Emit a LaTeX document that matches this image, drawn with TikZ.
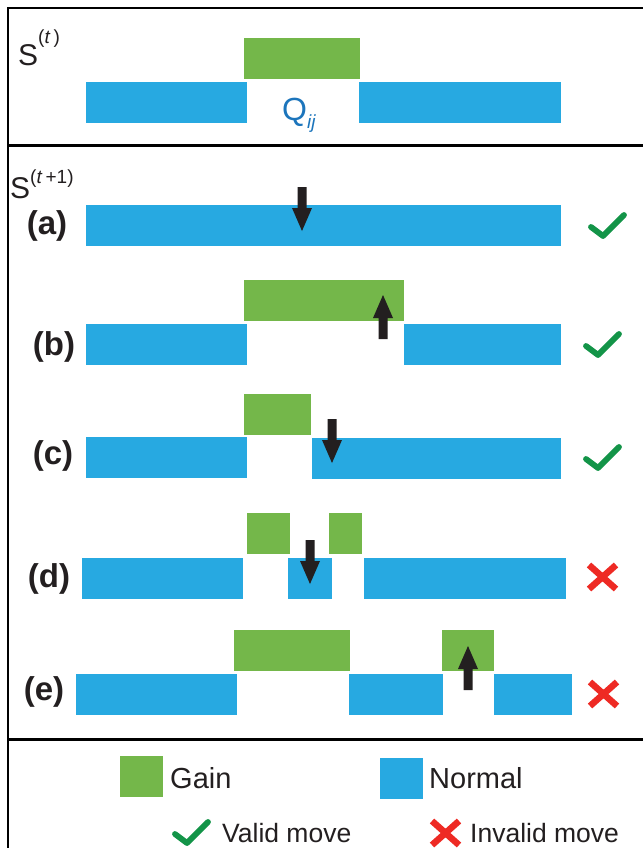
\documentclass[tikz,border=0pt]{standalone}
\usepackage{fontspec}
\setmainfont{Liberation Sans}
\definecolor{gainc}{HTML}{74B74A}
\definecolor{normc}{HTML}{27A9E1}
\definecolor{okc}{HTML}{139448}
\definecolor{badc}{HTML}{EE2A24}
\definecolor{arrc}{HTML}{231F20}
\definecolor{qc}{HTML}{1C75BC}
\tikzset{
  gain/.style={fill=gainc},
  norm/.style={fill=normc},
  rowlbl/.style={inner sep=0pt, anchor=center, text=arrc, font=\fontsize{33}{38}\selectfont\bfseries},
  legtext/.style={inner sep=0pt, anchor=base west, text=arrc, font=\fontsize{29}{33}\selectfont},
  legtextb/.style={inner sep=0pt, anchor=base west, text=arrc, font=\fontsize{26.5}{30}\selectfont},
  slbl/.style={inner sep=0pt, anchor=base west, text=arrc, font=\fontsize{30}{34}\selectfont},
  frame/.style={line width=1.5pt, black},
  sep/.style={line width=3pt, black},
  okmark/.pic={\draw[okc, line width=5.8pt, line cap=round, line join=round] (3,15) -- (15,24) -- (36,3);},
  badmark/.pic={\draw[badc, line width=6.5pt] (3,3) -- (30,27) (30,3) -- (3,27);},
  downarr/.pic={\fill[arrc] (-4.5,0) -- (4.5,0) -- (4.5,21) -- (10,21) -- (0,44) -- (-10,21) -- (-4.5,21) -- cycle;},
  uparr/.pic={\fill[arrc] (0,0) -- (10,23) -- (4.5,23) -- (4.5,44) -- (-4.5,44) -- (-4.5,23) -- (-10,23) -- cycle;}
}
\newcommand{\supsc}[2]{\raisebox{#1}{\fontsize{19}{22}\selectfont #2}}
\begin{document}
\begin{tikzpicture}[x=1pt,y=-1pt]
\useasboundingbox (0,0) rectangle (643,848);
\fill[white] (0,0) rectangle (643,848);
% frame and separators
\draw[frame] (8,848) -- (8,8) -- (643,8);
\draw[sep] (8,145) -- (643,145);
\draw[sep] (8,739) -- (643,739);

% S(t)
\node[slbl] (st) at (18,66) {S\supsc{22pt}{(\textit{t}\,)}};
\fill[gain] (244,38) rectangle (360,79);
\fill[norm] (86,82) rectangle (247,123);
\fill[norm] (359,82) rectangle (561,123);
\node[inner sep=0pt, anchor=base west, font=\fontsize{32}{36}\selectfont, text=qc] (q) at (282,121) {Q\raisebox{-8pt}{\fontsize{19}{22}\selectfont\textit{ij}}};

% S(t+1)
\node[slbl] (st1) at (10,198) {S\supsc{15pt}{(\textit{t}\,+1)}};

% (a)
\node[rowlbl] (la) at (47,226) {(a)};
\fill[norm] (86,205) rectangle (561,246);
\pic at (302,187) {downarr};
\pic at (588,212) {okmark};

% (b)
\node[rowlbl] (lb) at (54,347) {(b)};
\fill[gain] (244,280) rectangle (404,321);
\fill[norm] (86,324) rectangle (247,365);
\fill[norm] (404,324) rectangle (561,365);
\pic at (383,295) {uparr};
\pic at (583,331) {okmark};

% (c)
\node[rowlbl] (lc) at (53,456) {(c)};
\fill[gain] (244,394) rectangle (311,435);
\fill[norm] (86,437) rectangle (247,478);
\fill[norm] (312,438) rectangle (561,479);
\pic at (332,419) {downarr};
\pic at (583,444) {okmark};

% (d)
\node[rowlbl] (ld) at (49,579) {(d)};
\fill[gain] (247,513) rectangle (290,554);
\fill[gain] (329,513) rectangle (362,554);
\fill[norm] (82,558) rectangle (243,599);
\fill[norm] (288,558) rectangle (332,599);
\fill[norm] (364,558) rectangle (566,599);
\pic at (310,540) {downarr};
\pic at (586,562) {badmark};

% (e)
\node[rowlbl] (le) at (44,692) {(e)};
\fill[gain] (234,630) rectangle (350,671);
\fill[gain] (442,630) rectangle (494,671);
\fill[norm] (76,674) rectangle (237,715);
\fill[norm] (349,674) rectangle (443,715);
\fill[norm] (494,674) rectangle (572,715);
\pic at (468,646) {uparr};
\pic at (587,679) {badmark};

% legend
\fill[gain] (120,756) rectangle (163,797);
\node[legtext] (lgain) at (170,788) {Gain};
\fill[norm] (380,758) rectangle (423,799);
\node[legtext] (lnorm) at (429,788) {Normal};
\pic at (172,819) {okmark};
\node[legtextb] (lvalid) at (222,842) {Valid move};
\pic at (429,818) {badmark};
\node[legtextb] (linvalid) at (470,842) {Invalid move};
\end{tikzpicture}
\end{document}
